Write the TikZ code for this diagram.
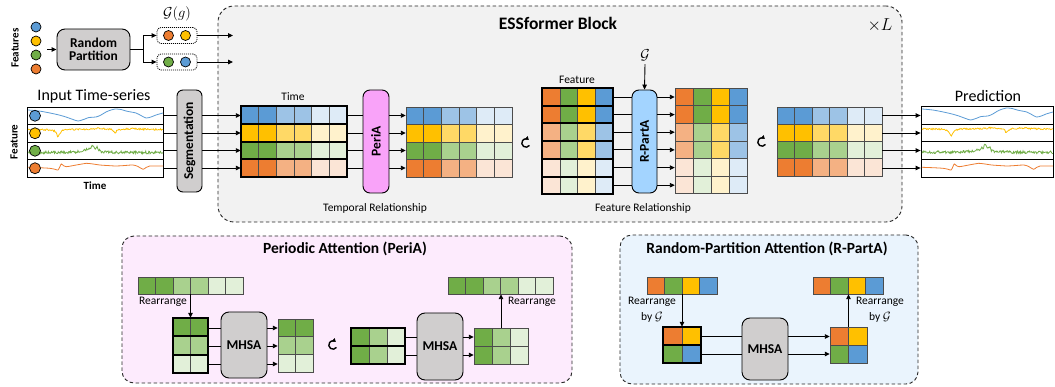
\documentclass[tikz,border=0pt]{standalone}
\usepackage{fontspec}
\setmainfont{Carlito}
\usetikzlibrary{arrows.meta,calc}
\definecolor{B1}{HTML}{5B9BD5}\definecolor{B2}{HTML}{9DC3E6}\definecolor{B3}{HTML}{DEEBF7}
\definecolor{Y1}{HTML}{FFC000}\definecolor{Y2}{HTML}{FFD966}\definecolor{Y3}{HTML}{FFF2CC}
\definecolor{G1}{HTML}{70AD47}\definecolor{G2}{HTML}{A9D18E}\definecolor{G3}{HTML}{E2F0D9}
\definecolor{O1}{HTML}{ED7D31}\definecolor{O2}{HTML}{F4B183}\definecolor{O3}{HTML}{FBE5D6}
\definecolor{boxgray}{HTML}{D0CECE}
\definecolor{essbg}{HTML}{F2F2F2}
\definecolor{periafill}{HTML}{F9A3F9}
\definecolor{rpafill}{HTML}{A3D4FF}
\definecolor{pinkbg}{HTML}{FDEBFD}
\definecolor{bluebg}{HTML}{EAF4FD}
\newcommand\myrow[6]{%
  \foreach \cc [count=\i from 0] in {#6}{\filldraw[cell,fill=\cc] ({#1+\i*#3},{#2}) rectangle ++(#3,#4);}%
  \ifnum#5>0 \draw[rowbox] (#1,{#2}) rectangle ++({#5*#3},#4);\fi}
\newcommand\rotsym[1]{%
  \begin{scope}[shift={(#1)}, yscale=-1]
    \draw[line width=1.4, -{Triangle[length=3.2,width=4.2]}] (-35:4.2) arc[start angle=-35, end angle=-310, radius=4.2];
  \end{scope}}
\tikzset{
  cell/.style={draw=black!70, line width=0.5},
  rowbox/.style={draw=black, line width=2},
  conn/.style={draw=black, line width=0.9},
  arr/.style={conn, -{Triangle[length=5,width=4.5]}},
  graybox/.style={draw=black, fill=boxgray, rounded corners=6, line width=0.9, inner sep=0},
  dashbox/.style={draw=black!85, dash pattern=on 3.5pt off 2.5pt, line width=0.9, inner sep=0},
  dot/.style={circle, draw=black, line width=0.7, minimum size=10, inner sep=0},
  grp/.style={draw=black, dash pattern=on 1pt off 1pt, rounded corners=4, line width=0.8, minimum width=40, minimum height=16, inner sep=0},
  area/.style={inner sep=0},
  big/.style={font=\fontsize{16}{19}\selectfont},
  bigb/.style={font=\bfseries\fontsize{17.5}{20}\selectfont},
  ttl/.style={font=\bfseries\fontsize{15.5}{18}\selectfont},
  small/.style={font=\fontsize{11.5}{16}\selectfont},
  smallb/.style={font=\bfseries\fontsize{11}{13}\selectfont},
  boxt/.style={font=\bfseries\fontsize{13.5}{15}\selectfont},
  rotpt/.style={inner sep=0, minimum size=10},
  cB/.pic={\draw[B1, line width=0.8] plot[smooth] coordinates {(1,3) (12,4) (23,6) (32,8) (39,10) (46,12.5) (51,14) (55,13) (58,12) (62,10.5) (69,10) (74,8) (79,5) (84,3) (88,2) (94,2.5) (99,4) (104,5) (109,6) (114,8.5) (119,11) (124,10) (129,8) (136,6)};},
  cY/.pic={\draw[Y1, line width=0.8] plot[domain=1:136, samples=170] (\x, {5 + 7/(1+((\x-31)/2)^2) + 4/(1+((\x-88)/1.5)^2) - 1.2/(1+((\x-73)/8)^2) - 1/(1+((\x-106)/6)^2) + 0.8*rand});},
  cG/.pic={\draw[G1, line width=0.8] plot[domain=1:136, samples=220] (\x, {10.5 - 5/(1+((\x-66)/1.5)^2) - 3/(1+((\x-62)/6)^2) - 4/(1+((\x-70.5)/1.2)^2) + 1.4*rand});},
  cO/.pic={\draw[O1, line width=0.8] plot[smooth] coordinates {(1,7.8) (12,8.2) (22.7,8.8) (28,9.8) (31,10.5) (33,7) (34.3,4.5) (37,6.5) (39.3,7.2) (44,6.5) (49.3,5.5) (55,4.5) (59.3,3.8) (66,4.5) (72.7,5.5) (80,6) (89.3,6.5) (98,6) (106,5.5) (111,7) (116,9.8) (119,8) (122.7,6.5) (130,6.5) (136,6.5)};},
}
\begin{document}
\begin{tikzpicture}[x=1pt,y=-1pt]
\pgfmathsetseed{7}
\useasboundingbox (0,0) rectangle (1055,387);
% y levels
\coordinate (y1) at (0,115.5); \coordinate (y2) at (0,133); \coordinate (y3) at (0,150.5); \coordinate (y4) at (0,168);
\coordinate (z1) at (0,97); \coordinate (z2) at (0,114.6); \coordinate (z3) at (0,132.2);
\coordinate (z4) at (0,149.9); \coordinate (z5) at (0,167.6); \coordinate (z6) at (0,185.2);

% ESSformer block
\node[dashbox, fill=essbg, rounded corners=16, minimum width=684, minimum height=216] (ess) at (560,114) {};
\node[bigb] (esst) at (558,23) {ESSformer Block};
\node[font=\fontsize{16}{19}\selectfont] (xl) at (880,25) {$\times L$};

% features and random partition
\node[smallb, rotate=90] (featl) at (15,48) {Features};
\node[dot, fill=B1] (f1) at (36,27) {};
\node[dot, fill=Y1] (f2) at (36,41) {};
\node[dot, fill=G1] (f3) at (36,55) {};
\node[dot, fill=O1] (f4) at (36,69) {};
\coordinate (fin) at (47,49.5);
\node[graybox, rounded corners=8, minimum width=73, minimum height=41, align=center, boxt] (rp) at (93.5,49.5) {Random\\[-2pt]Partition};
\draw[arr] (fin) -- (rp.west);
\coordinate (sp) at (143,49.5);
\node[grp] (gA) at (177,35.5) {};
\node[grp] (gB) at (177,62) {};
\node[dot, fill=O1] (gA1) at (168.5,35.5) {};
\node[dot, fill=Y1] (gA2) at (185.5,35.5) {};
\node[dot, fill=G1] (gB1) at (168.5,62) {};
\node[dot, fill=B1] (gB2) at (185.5,62) {};
\node[font=\fontsize{15}{18}\selectfont] (ggl) at (177,14) {$\mathcal{G}(g)$};
\draw[conn] (rp.east) -- (sp);
\draw[arr] (sp) |- (gA.west);
\draw[arr] (sp) |- (gB.west);
\coordinate (eA) at (233,35.5); \coordinate (eB) at (233,62);
\draw[arr] (gA.east) -- (eA);
\draw[arr] (gB.east) -- (eB);

% input time series
\node[big] (inl) at (94,96) {Input Time-series};
\node[draw, line width=0.8, minimum width=136, minimum height=70, inner sep=0] (inbox) at (95,142) {};
\draw[line width=0.8] (27,124.5) -- (163,124.5) (27,142) -- (163,142) (27,159.5) -- (163,159.5);
\pic at (27,107) {cB};
\pic at (27,124.5) {cY};
\pic at (27,142) {cG};
\pic at (27,159.5) {cO};
\node[dot, fill=B1, minimum size=11] (c1) at (35,115.75) {};
\node[dot, fill=Y1, minimum size=11] (c2) at (35,133.25) {};
\node[dot, fill=G1, minimum size=11] (c3) at (35,150.75) {};
\node[dot, fill=O1, minimum size=11] (c4) at (35,168.25) {};
\node[smallb, rotate=90] (featr) at (14,142) {Feature};
\node[smallb] (timeb) at (95,186) {Time};

% segmentation
\node[graybox, minimum width=25, minimum height=102] (seg) at (189.5,141) {};
\node[boxt, rotate=90] (segt) at (seg) {Segmentation};
\foreach \y in {y1,y2,y3,y4}{\draw[conn] (inbox.east |- \y) -- (seg.west |- \y);}

% grid 1
\foreach \L [count=\r from 0] in {B,Y,G,O}{\myrow{241}{106.5+\r*17.625}{17.667}{17.625}{6}{\L1,\L1,\L2,\L2,\L3,\L3}}
\node[area, minimum width=106, minimum height=70.5] (g1) at (294,141.75) {};
\node[small] (timel) at (293,97) {Time};
\foreach \y in {y1,y2,y3,y4}{\draw[arr] (seg.east |- \y) -- (g1.west |- \y);}

% PeriA
\node[graybox, fill=periafill, rounded corners=7, minimum width=26, minimum height=103] (peri) at (376,141.5) {};
\node[boxt, rotate=90] (perit) at (peri) {PeriA};
\foreach \y in {y1,y2,y3,y4}{\draw[conn] (g1.east |- \y) -- (peri.west |- \y);}

% grid 2
\foreach \L [count=\r from 0] in {B,Y,G,O}{\myrow{406}{107+\r*17.5}{17.667}{17.5}{0}{\L1,\L1,\L2,\L2,\L3,\L3}}
\node[area, minimum width=106, minimum height=70] (g2) at (459,142) {};
\foreach \y in {y1,y2,y3,y4}{\draw[arr] (peri.east |- \y) -- (g2.west |- \y);}
\node[small] (treln) at (375,208) {Temporal Relationship};
\node[rotpt] (rot1) at (526,143) {};
\rotsym{rot1}

% grid 3
\foreach \s [count=\r from 0] in {1,1,2,2,3,3}{\myrow{542}{88+\r*17.75}{17.75}{17.75}{4}{O\s,G\s,Y\s,B\s}}
\node[area, minimum width=71, minimum height=106.5] (g3) at (577.5,141.25) {};
\node[small] (featl2) at (577,80) {Feature};

% R-PartA
\node[graybox, fill=rpafill, rounded corners=7, minimum width=25, minimum height=103] (rpa) at (644.5,141.5) {};
\node[boxt, rotate=90] (rpat) at (rpa) {R-PartA};
\node[font=\fontsize{15}{18}\selectfont] (gl) at (645,55) {$\mathcal{G}$};
\draw[arr] (gl.south) -- (rpa.north);
\foreach \y in {z1,z2,z3,z4,z5,z6}{\draw[conn] (g3.east |- \y) -- (rpa.west |- \y);}

% grid 4
\foreach \s [count=\r from 0] in {1,1,2,2,3,3}{\myrow{675}{88+\r*17.6}{18}{17.6}{0}{O\s,G\s,Y\s,B\s}}
\node[area, minimum width=72, minimum height=105.6] (g4) at (711,140.8) {};
\foreach \y in {z1,z2,z3,z4,z5,z6}{\draw[arr] (rpa.east |- \y) -- (g4.west |- \y);}
\node[small] (freln) at (643,208) {Feature Relationship};
\node[rotpt] (rot2) at (762,142) {};
\rotsym{rot2}

% grid 5
\foreach \L [count=\r from 0] in {B,Y,G,O}{\myrow{777}{107+\r*17.25}{17.5}{17.25}{0}{\L1,\L1,\L2,\L2,\L3,\L3}}
\node[area, minimum width=105, minimum height=69] (g5) at (829.5,141.5) {};

% prediction
\node[big] (predl) at (988,96) {Prediction};
\node[draw, line width=0.8, minimum width=132, minimum height=71, inner sep=0] (pred) at (987,141.5) {};
\draw[line width=0.8] (921,124) -- (1053,124) (921,141.75) -- (1053,141.75) (921,159.5) -- (1053,159.5);
\pic[xscale=0.97] at (921,106) {cB};
\pic[xscale=0.97] at (921,124) {cY};
\pic[xscale=0.97] at (921,141.75) {cG};
\pic[xscale=0.97] at (921,159.5) {cO};
\foreach \y in {y1,y2,y3,y4}{\draw[arr] (g5.east |- \y) -- (pred.west |- \y);}

% ---------- Periodic Attention box ----------
\node[dashbox, fill=pinkbg, rounded corners=12, minimum width=450, minimum height=147] (pbox) at (347,309.5) {};
\node[ttl] (ptl) at (345,249) {Periodic Attention (PeriA)};
\myrow{138}{277}{17.5}{17}{0}{G1,G1,G2,G2,G3,G3}
\node[area, minimum width=105, minimum height=17] (s1) at (190.5,285.5) {};
\node[small] (ra1) at (163,302) {Rearrange};
\myrow{173}{318}{17.5}{18.3}{2}{G1,G1}
\myrow{173}{336.3}{17.5}{18.3}{2}{G2,G2}
\myrow{173}{354.6}{17.5}{18.3}{2}{G3,G3}
\node[area, minimum width=35, minimum height=54.9] (bA) at (190.5,345.45) {};
\draw[arr] (s1.south) -- (bA.north);
\node[graybox, rounded corners=8, minimum width=46, minimum height=66, boxt] (m1) at (244,345) {MHSA};
\myrow{278}{319}{17.5}{17.67}{0}{G1,G1}
\myrow{278}{336.67}{17.5}{17.67}{0}{G2,G2}
\myrow{278}{354.33}{17.5}{17.67}{0}{G3,G3}
\node[area, minimum width=35, minimum height=53] (bB) at (295.5,345.5) {};
\coordinate (p1) at (0,328); \coordinate (p2) at (0,346); \coordinate (p3) at (0,364);
\foreach \y in {p1,p2,p3}{\draw[conn] (bA.east |- \y) -- (m1.west |- \y); \draw[arr] (m1.east |- \y) -- (bB.west |- \y);}
\node[rotpt] (rot3) at (333,345) {};
\rotsym{rot3}
\myrow{351}{328}{18}{18}{3}{G1,G2,G3}
\myrow{351}{346}{18}{18}{3}{G1,G2,G3}
\node[area, minimum width=54, minimum height=36] (bC) at (378,346) {};
\node[graybox, rounded corners=8, minimum width=46, minimum height=67, boxt] (m2) at (440,346.5) {MHSA};
\myrow{474}{328}{18}{18}{0}{G1,G2,G3}
\myrow{474}{346}{18}{18}{0}{G1,G2,G3}
\node[area, minimum width=54, minimum height=36] (bD) at (501,346) {};
\coordinate (q1) at (0,337); \coordinate (q2) at (0,355);
\foreach \y in {q1,q2}{\draw[conn] (bC.east |- \y) -- (m2.west |- \y); \draw[arr] (m2.east |- \y) -- (bD.west |- \y);}
\myrow{448}{277}{17.5}{17}{0}{G1,G1,G2,G2,G3,G3}
\node[area, minimum width=105, minimum height=17] (s2) at (500.5,285.5) {};
\draw[arr] (bD.north) -- (bD.north |- s2.south);
\node[small] (ra2) at (532,302) {Rearrange};

% ---------- Random-Partition Attention box ----------
\node[dashbox, fill=bluebg, rounded corners=12, minimum width=298, minimum height=149] (rbox) at (769,309.5) {};
\node[ttl] (rtl) at (767,249) {Random-Partition Attention (R-PartA)};
\myrow{647}{277}{17.5}{17}{0}{O1,G1,Y1,B1}
\node[area, minimum width=70, minimum height=17] (s3) at (682,285.5) {};
\node[small, align=center] (ra3) at (652,310) {Rearrange\\by $\mathcal{G}$};
\myrow{663}{327}{19}{18}{2}{O1,Y1}
\myrow{663}{345}{19}{18}{2}{G1,B1}
\node[area, minimum width=38, minimum height=36] (bE) at (682,345) {};
\draw[arr] (s3.south) -- (bE.north);
\node[graybox, rounded corners=8, minimum width=46, minimum height=62, boxt] (m3) at (765,349) {MHSA};
\myrow{830}{327}{18.5}{18}{0}{O1,Y1}
\myrow{830}{345}{18.5}{18}{0}{G1,B1}
\node[area, minimum width=37, minimum height=36] (bF) at (848.5,345) {};
\coordinate (w1) at (0,336.5); \coordinate (w2) at (0,354);
\foreach \y in {w1,w2}{\draw[conn] (bE.east |- \y) -- (m3.west |- \y); \draw[arr] (m3.east |- \y) -- (bF.west |- \y);}
\myrow{813}{277}{17.5}{17}{0}{O1,G1,Y1,B1}
\node[area, minimum width=70, minimum height=17] (s4) at (848,285.5) {};
\draw[arr] (bF.north) -- (bF.north |- s4.south);
\node[small, align=center] (ra4) at (880,310) {Rearrange\\by $\mathcal{G}$};
\end{tikzpicture}
\end{document}
